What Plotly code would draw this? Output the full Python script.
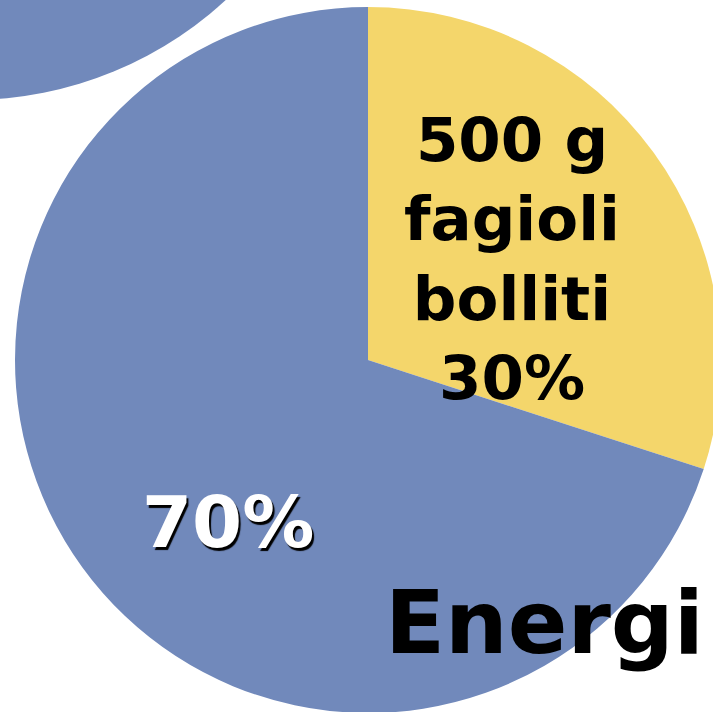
import plotly.graph_objects as go

# ---- data ----
labels = ["500 g fagioli bolliti", "Altro"]
label_lines = ["500 g<br>fagioli<br>bolliti", ""]
values = [30, 70]
colors = ["#f4d66b", "#7189bb"]
title_text = "Energi"

W, H = 736, 736


def px(x):
    return x / W


def py(y):
    return 1 - y / H


fig = go.Figure()
fig.add_trace(go.Pie(
    labels=labels,
    values=values,
    sort=False,
    direction="clockwise",
    rotation=0,
    marker=dict(colors=colors, line=dict(width=0)),
    textinfo="none",
    hoverinfo="label+percent",
    showlegend=False,
    domain=dict(x=[0, 1], y=[py(713), py(7)]),
))

# decorative neighbouring circle (top-left, partly off canvas)
cx, cy, r = -30, -277, 377
fig.add_shape(type="circle", xref="paper", yref="paper",
              x0=px(cx - r), x1=px(cx + r), y0=py(cy + r), y1=py(cy - r),
              fillcolor=colors[1], line=dict(width=0), layer="below")

total = sum(values)
pct = [round(v * 100 / total) for v in values]

fig.add_annotation(
    x=px(512), y=py(258), xref="paper", yref="paper",
    text=f"{label_lines[0]}<br>{pct[0]}%", showarrow=False,
    xanchor="center", yanchor="middle",
    font=dict(family="DejaVu Sans", size=61, color="#000000", weight="bold"),
)
fig.add_annotation(
    x=px(228), y=py(522), xref="paper", yref="paper",
    text=f"{pct[1]}%", showarrow=False,
    xanchor="center", yanchor="middle",
    font=dict(family="DejaVu Sans", size=72, color="#ffffff", weight="bold",
              shadow="2px 3px 1px #000000"),
)
fig.add_annotation(
    x=px(383), y=py(622), xref="paper", yref="paper",
    text=title_text, showarrow=False,
    xanchor="left", yanchor="middle",
    font=dict(family="DejaVu Sans", size=88, color="#000000", weight="bold"),
)

fig.update_layout(
    width=W, height=H,
    margin=dict(l=0, r=0, t=0, b=0),
    paper_bgcolor="#ffffff",
    plot_bgcolor="#ffffff",
)

fig.write_html(
    "out.html",
    config={"displayModeBar": False},
    post_script=(
        "document.body.style.margin='0';"
        "document.body.style.overflow='hidden';"
        "document.documentElement.style.overflow='hidden';"
    ),
)
